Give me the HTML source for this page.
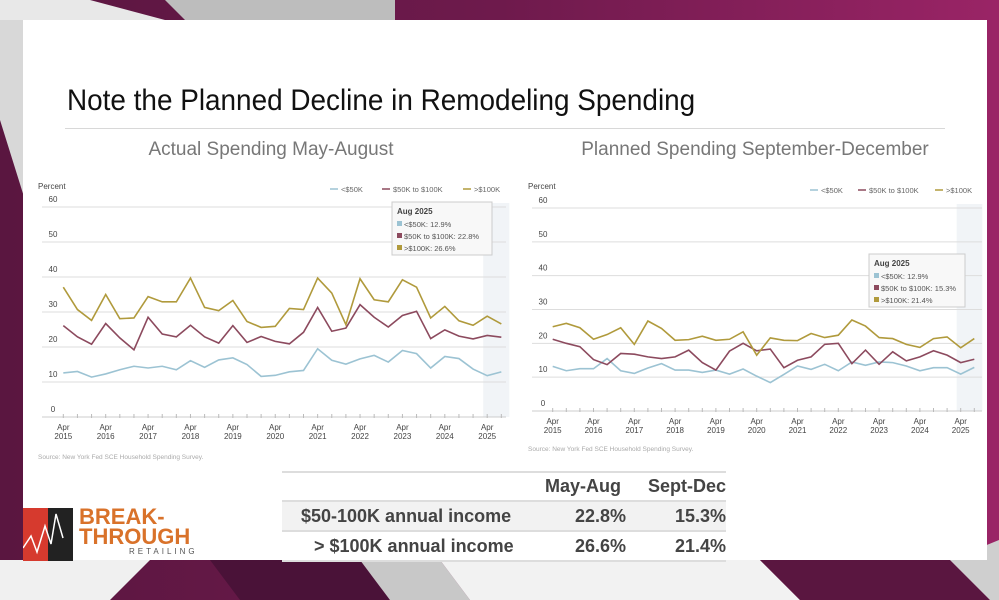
<!DOCTYPE html>
<html><head><meta charset="utf-8"><style>
body{margin:0;width:999px;height:600px;overflow:hidden;position:relative;font-family:"Liberation Sans",sans-serif;background:#6b1a4a}
.abs{position:absolute}
.narrow{font-family:"Liberation Sans Narrow","Liberation Sans",sans-serif}
</style></head><body>
<svg class="abs" style="left:0;top:0" width="999" height="600">
<defs><linearGradient id="bg" x1="0" y1="0" x2="1" y2="0"><stop offset="0" stop-color="#5a1640"/><stop offset="0.5" stop-color="#6e1a4c"/><stop offset="1" stop-color="#9a2466"/></linearGradient></defs>
<rect width="999" height="600" fill="url(#bg)"/>
<polygon points="0,0 90,0 165,20 0,20" fill="#e8e8e8"/>
<polygon points="165,0 395,0 395,20 185,20" fill="#bdbdbd"/>
<polygon points="0,20 25,20 25,200 0,120" fill="#d8d8d8"/>
<polygon points="0,560 150,560 110,600 0,600" fill="#f0f0f0"/>
<polygon points="210,560 360,560 390,600 240,600" fill="#4a1238"/>
<polygon points="360,560 440,560 470,600 390,600" fill="#c8c8c8"/>
<polygon points="440,560 760,560 800,600 470,600" fill="#f2f2f2"/>
<polygon points="760,560 950,560 990,600 800,600" fill="#5a1640"/>
<polygon points="950,560 999,540 999,600 990,600" fill="#cfcfcf"/>
</svg>
<div class="abs" style="left:23px;top:20px;width:964px;height:540px;background:#fff"></div>
<div class="abs narrow" style="left:67px;top:84px;font-size:30px;color:#111;transform:scaleX(0.93);transform-origin:0 0;white-space:nowrap">Note the Planned Decline in Remodeling Spending</div>
<div class="abs" style="left:65px;top:128px;width:880px;height:1px;background:#d8d8d8"></div>
<div class="abs" style="left:60px;top:139px;width:422px;text-align:center;font-size:19px;color:#777">Actual Spending May-August</div>
<div class="abs" style="left:545px;top:139px;width:420px;text-align:center;font-size:19px;color:#777">Planned Spending September-December</div>

<svg id="c1" class="abs" style="left:30px;top:175px" width="480" height="290"></svg>
<svg id="c2" class="abs" style="left:520px;top:175px" width="470" height="285"></svg>

<div class="abs narrow" style="left:282px;top:471px;width:444px;font-weight:bold;color:#444;font-size:18px">
<div style="height:2px;background:#ddd"></div>
<div style="height:27px;position:relative"><span class="abs" style="left:263px;top:3px">May-Aug</span><span class="abs" style="right:0;top:3px">Sept-Dec</span></div>
<div style="height:2px;background:#ddd"></div>
<div style="height:28px;position:relative;background:#f2f2f2"><span class="abs" style="left:19px;top:4px">$50-100K annual income</span><span class="abs" style="left:293px;top:4px">22.8%</span><span class="abs" style="right:0;top:4px">15.3%</span></div>
<div style="height:2px;background:#ddd"></div>
<div style="height:28px;position:relative"><span class="abs" style="left:32px;top:4px">&gt; $100K annual income</span><span class="abs" style="left:293px;top:4px">26.6%</span><span class="abs" style="right:0;top:4px">21.4%</span></div>
<div style="height:2px;background:#ddd"></div>
</div>

<div class="abs" style="left:23px;top:508px;width:50px;height:53px">
<svg width="50" height="53"><rect width="25" height="53" fill="#d63a2e"/><rect x="25" width="25" height="53" fill="#222"/><polyline points="0,40 8,28 14,44 22,18 28,36 33,6 40,30" fill="none" stroke="#fff" stroke-width="1.5"/></svg></div>
<div class="abs narrow" style="left:79px;top:507px;color:#d9722a;font-weight:bold;font-size:22px;line-height:20px">BREAK-<br>THROUGH<div style="font-size:8px;letter-spacing:3px;color:#555;font-weight:normal;line-height:10px;margin-left:50px">RETAILING</div></div>

<script>
const years=["2015","2016","2017","2018","2019","2020","2021","2022","2023","2024","2025"];
const yTicks=[0,10,20,30,40,50,60];
const seriesNames=["<$50K","$50K to $100K",">$100K"];
const colors=["#9cc3d3","#8c4a5e","#b09a3c"];
const actualLow=[12.6,13,11.4,12.3,13.5,14.5,14,14.5,13.5,16.1,14.2,16.3,16.9,15,11.6,11.9,12.9,13.3,19.5,16.2,15.1,16.6,17.6,15.7,19,18.1,14,17.3,16.7,13.7,11.8,12.9];
const actualMid=[26.1,22.9,20.8,26.7,22.6,19.2,28.5,23.7,22.9,26.2,22.9,21.1,26.1,21.3,23,21.6,20.9,24.2,31.3,24.5,25.4,32.1,28.5,25.7,29,30.2,22.4,24.9,23.1,22.3,23.3,22.8];
const actualHigh=[37.1,30.7,27.6,35,28.1,28.3,34.4,32.9,32.9,39.7,31.3,30.4,33.3,27.3,25.6,25.9,31,30.7,39.7,35.4,26.4,39.5,33.5,32.9,39.2,37.1,28.3,31.6,27.5,26.2,28.8,26.6];
const plannedLow=[13.2,11.9,12.5,12.5,15.5,11.9,11.1,12.7,14,12.1,12.1,11.4,12.1,10.9,12.4,10.3,8.4,10.8,13.3,12.3,13.8,11.9,14.5,13.5,14.5,14.3,13.3,11.9,12.8,12.8,10.9,12.9];
const plannedMid=[21.2,20,19,15.2,13.7,17,16.8,16,15.5,16,18,14.3,12.1,17.7,20,17.8,18.3,12.8,15,16,19.7,20,14,18,13.8,17.5,14.8,16,17.8,16.5,14.3,15.3];
const plannedHigh=[24.9,25.9,24.6,21.2,22.6,24.6,19.7,26.6,24.4,20.9,21.1,22.1,20.9,21.2,23.4,16.5,21.6,20.9,20.8,22.9,21.7,22.4,26.9,25.1,21.7,21.4,19.7,18.8,21.4,21.9,18.7,21.4];
const tip1=["Aug 2025","<$50K: 12.9%","$50K to $100K: 22.8%",">$100K: 26.6%"];
const tip2=["Aug 2025","<$50K: 12.9%","$50K to $100K: 15.3%",">$100K: 21.4%"];
const NS="http://www.w3.org/2000/svg";
function mk(p,t,a,name,txt){const e=document.createElementNS(NS,t);for(const k in a)e.setAttribute(k,a[k]);


if(txt!==undefined)e.textContent=txt;p.appendChild(e);return e;}
function draw(id,g,series,tip){
 const svg=document.getElementById(id);
 const y=v=>g.y0-(g.y0-g.y60)*v/60, x=i=>g.x0+i*g.dx;
 mk(svg,"rect",{x:x(30)-4,y:g.y60-4,width:g.dx+12,height:g.y0-g.y60+4,fill:"#f1f4f7"},"highlight-band");
 mk(svg,"text",{x:8,y:14,"font-size":8,fill:"#444"},"y-axis-title","Percent");
 yTicks.forEach(t=>{mk(svg,"line",{x1:12,x2:g.xr,y1:y(t),y2:y(t),stroke:t?"#ddd":"#ccc"},"gridline-"+t);
  mk(svg,"text",{x:g.lx,y:y(t)-5,"font-size":8,fill:"#444","text-anchor":"middle"},"y-tick-"+t,t);});
 for(let i=0;i<32;i++)mk(svg,"line",{x1:x(i),x2:x(i),y1:y(0)-3,y2:y(0)+1,stroke:"#bbb"},"x-tick");
 years.forEach((yr,j)=>{const tx=x(j*3);
  mk(svg,"text",{x:tx,y:y(0)+13,"font-size":8,fill:"#444","text-anchor":"middle"},"x-label-apr-"+yr,"Apr");
  mk(svg,"text",{x:tx,y:y(0)+22,"font-size":8,fill:"#444","text-anchor":"middle"},"x-label-year-"+yr,yr);});
 series.forEach((s,k)=>{mk(svg,"polyline",{points:s.map((v,i)=>x(i)+","+y(v)).join(" "),fill:"none",stroke:colors[k],"stroke-width":1.6},"line-"+["low","mid","high"][k]);});
 g.leg.forEach((lx,k)=>{mk(svg,"line",{x1:lx,x2:lx+8,y1:g.legY,y2:g.legY,stroke:colors[k],"stroke-width":1.5},"legend-swatch-"+k);
  mk(svg,"text",{x:lx+11,y:g.legY+3,"font-size":7.5,fill:"#666"},"legend-entry-"+k,seriesNames[k]);});
 const tg=mk(svg,"g",{transform:`translate(${g.tx},${g.ty})`},"tooltip");
 mk(tg,"rect",{width:g.tw,height:53,fill:"#f8f8f8",stroke:"#ccc"},"tooltip-box");
 mk(tg,"text",{x:5,y:12,"font-size":8,"font-weight":"bold",fill:"#444"},"tooltip-title",tip[0]);
 for(let k=0;k<3;k++){mk(tg,"rect",{x:5,y:19+k*12,width:5,height:5,fill:colors[k]},"tooltip-swatch");
  mk(tg,"text",{x:12,y:25+k*12,"font-size":7.5,fill:"#555"},"tooltip-entry-"+k,tip[k+1]);}
 mk(svg,"text",{x:8,y:g.srcY,"font-size":6.5,fill:"#aaa"},"source-note","Source: New York Fed SCE Household Spending Survey.");
}
draw("c1",{x0:33.3,dx:14.13,y0:242,y60:32,xr:476,lx:23,legY:14,leg:[300,352,433],tx:362,ty:27,tw:100,srcY:284},[actualLow,actualMid,actualHigh],tip1);
draw("c2",{x0:32.7,dx:13.6,y0:236,y60:33,xr:462,lx:23,legY:15,leg:[290,338,415],tx:349,ty:79,tw:96,srcY:276},[plannedLow,plannedMid,plannedHigh],tip2);
</script>
</body></html>
